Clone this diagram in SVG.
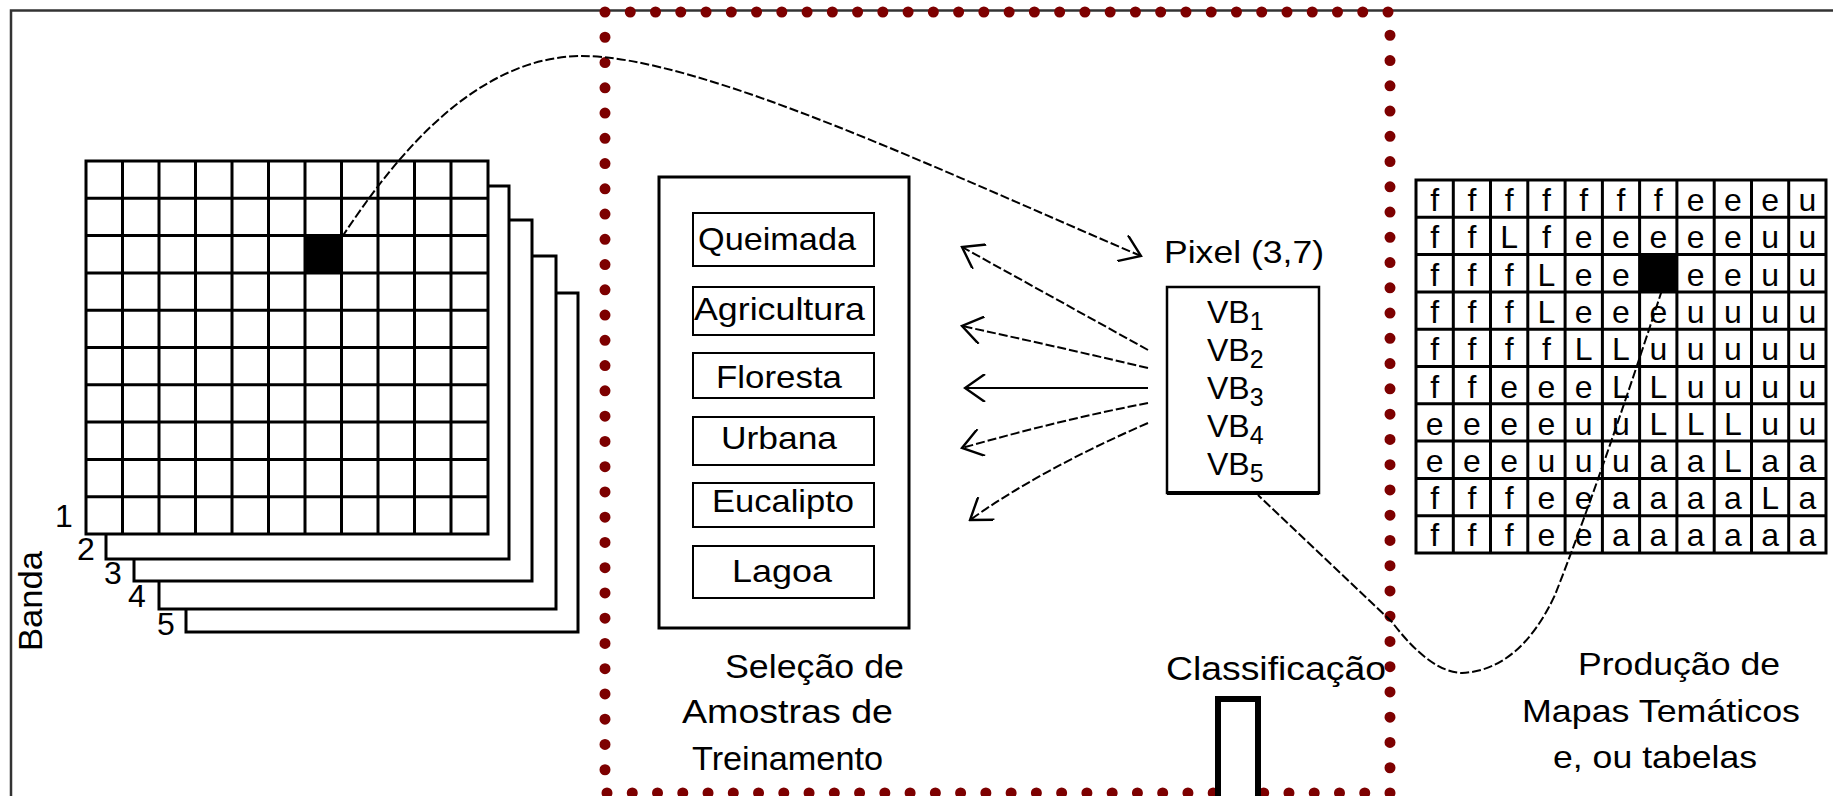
<svg xmlns="http://www.w3.org/2000/svg" width="1833" height="796" viewBox="0 0 1833 796">
<style>
text{font-family:"Liberation Sans",Arial,sans-serif;fill:#000}
.t32{font-size:32px}
.t34{font-size:34px}
.mid{text-anchor:middle}
.ln{fill:none;stroke:#000;stroke-width:3}
.box{fill:#fff;stroke:#000;stroke-width:3}
.thin{fill:none;stroke:#000;stroke-width:2}
.dash{fill:none;stroke:#000;stroke-width:2;stroke-dasharray:9 3}
.cell{font-size:32px;text-anchor:middle}
</style>
<defs>
<marker id="chev" viewBox="0 0 12 14" refX="11" refY="7" markerWidth="24" markerHeight="28" markerUnits="userSpaceOnUse" orient="auto">
<path d="M1,0 L11,7 L1,14" fill="none" stroke="#000" stroke-width="1.2"/>
</marker>
</defs>
<rect width="1833" height="796" fill="#fff"/>
<!-- outer frame -->
<path d="M11,796 V10.5 H1833" fill="none" stroke="#333" stroke-width="2.5"/>

<!-- dotted selection frame -->
<g id="training-frame">
<path d="M605,12 H1390 V793 H605 Z" fill="none" stroke="#7d0000" stroke-width="11" stroke-linecap="round" stroke-dasharray="0 1" pathLength="124"/>
</g>

<!-- band stack -->
<g id="bands">
<rect class="box" x="186" y="293" width="392" height="339"/>
<rect class="box" x="159" y="256" width="397" height="353"/>
<rect class="box" x="134" y="220" width="398" height="361"/>
<rect class="box" x="106" y="186" width="403" height="373"/>
<rect class="box" x="86" y="161" width="402" height="373"/>
<path class="ln" d="M122.5,161V534M159,161V534M195.5,161V534M232,161V534M268.5,161V534M305,161V534M341.5,161V534M378,161V534M414.5,161V534M451,161V534
M86,198.3H488M86,235.6H488M86,272.9H488M86,310.2H488M86,347.5H488M86,384.8H488M86,422.1H488M86,459.4H488M86,496.7H488"/>
<rect x="305" y="235.6" width="36.5" height="37.3" fill="#000"/>
<text class="t32 mid" x="64" y="527">1</text>
<text class="t32 mid" x="86" y="560">2</text>
<text class="t32 mid" x="113" y="584">3</text>
<text class="t32 mid" x="137" y="607">4</text>
<text class="t32 mid" x="166" y="635">5</text>
<text class="mid" font-size="34" transform="translate(42,601) rotate(-90)" textLength="100" lengthAdjust="spacingAndGlyphs">Banda</text>
</g>

<!-- training samples -->
<g id="samples">
<rect class="box" x="659" y="177" width="250" height="451"/>
<rect class="thin" x="693" y="213" width="181" height="53"/>
<rect class="thin" x="693" y="287" width="181" height="48"/>
<rect class="thin" x="693" y="353" width="181" height="45"/>
<rect class="thin" x="693" y="417" width="181" height="48"/>
<rect class="thin" x="693" y="483" width="181" height="44"/>
<rect class="thin" x="693" y="546" width="181" height="52"/>
<text class="t32" x="698" y="250" textLength="158" lengthAdjust="spacingAndGlyphs">Queimada</text>
<text class="t32" x="694" y="320" textLength="171" lengthAdjust="spacingAndGlyphs">Agricultura</text>
<text class="t32" x="716" y="388" textLength="126" lengthAdjust="spacingAndGlyphs">Floresta</text>
<text class="t32" x="721" y="449" textLength="116" lengthAdjust="spacingAndGlyphs">Urbana</text>
<text class="t32" x="712" y="512" textLength="142" lengthAdjust="spacingAndGlyphs">Eucalipto</text>
<text class="t32" x="732" y="582" textLength="100" lengthAdjust="spacingAndGlyphs">Lagoa</text>
<text class="t34" x="725" y="678" textLength="179" lengthAdjust="spacingAndGlyphs">Seleção de</text>
<text class="t34" x="682" y="723" textLength="211" lengthAdjust="spacingAndGlyphs">Amostras de</text>
<text class="t34" x="692" y="770" textLength="191" lengthAdjust="spacingAndGlyphs">Treinamento</text>
</g>

<!-- pixel vector -->
<g id="pixel">
<text class="t32" x="1164" y="263" textLength="160" lengthAdjust="spacingAndGlyphs">Pixel (3,7)</text>
<rect x="1167" y="287" width="152" height="206" fill="#fff" stroke="#000" stroke-width="2.5"/>
<path d="M1167,493H1319" stroke="#000" stroke-width="4"/>
<text class="t32" x="1207" y="323">VB<tspan font-size="25" dy="7">1</tspan></text>
<text class="t32" x="1207" y="361">VB<tspan font-size="25" dy="7">2</tspan></text>
<text class="t32" x="1207" y="399">VB<tspan font-size="25" dy="7">3</tspan></text>
<text class="t32" x="1207" y="437">VB<tspan font-size="25" dy="7">4</tspan></text>
<text class="t32" x="1207" y="475">VB<tspan font-size="25" dy="7">5</tspan></text>
</g>

<!-- classification -->
<g id="classification">
<text class="t34" x="1166" y="680" textLength="220" lengthAdjust="spacingAndGlyphs">Classificação</text>
<rect x="1218" y="699" width="40" height="130" fill="#fff" stroke="#000" stroke-width="6"/>
</g>

<!-- thematic map -->
<g id="map">
<rect class="box" x="1416" y="180" width="410" height="373"/>
<path class="ln" d="M1453.3,180V553M1490.5,180V553M1527.8,180V553M1565.1,180V553M1602.4,180V553M1639.6,180V553M1676.9,180V553M1714.2,180V553M1751.5,180V553M1788.7,180V553
M1416,217.3H1826M1416,254.6H1826M1416,291.9H1826M1416,329.2H1826M1416,366.5H1826M1416,403.8H1826M1416,441.1H1826M1416,478.4H1826M1416,515.7H1826"/>
<rect x="1639.6" y="254.6" width="37.3" height="37.3" fill="#000"/>
<g class="cell">
<text class="cell" x="1434.6" y="211">f</text><text class="cell" x="1471.9" y="211">f</text><text class="cell" x="1509.2" y="211">f</text><text class="cell" x="1546.5" y="211">f</text><text class="cell" x="1583.7" y="211">f</text><text class="cell" x="1621" y="211">f</text><text class="cell" x="1658.3" y="211">f</text><text class="cell" x="1695.6" y="211">e</text><text class="cell" x="1732.8" y="211">e</text><text class="cell" x="1770.1" y="211">e</text><text class="cell" x="1807.4" y="211">u</text>
<text class="cell" x="1434.6" y="248">f</text><text class="cell" x="1471.9" y="248">f</text><text class="cell" x="1509.2" y="248">L</text><text class="cell" x="1546.5" y="248">f</text><text class="cell" x="1583.7" y="248">e</text><text class="cell" x="1621" y="248">e</text><text class="cell" x="1658.3" y="248">e</text><text class="cell" x="1695.6" y="248">e</text><text class="cell" x="1732.8" y="248">e</text><text class="cell" x="1770.1" y="248">u</text><text class="cell" x="1807.4" y="248">u</text>
<text class="cell" x="1434.6" y="286">f</text><text class="cell" x="1471.9" y="286">f</text><text class="cell" x="1509.2" y="286">f</text><text class="cell" x="1546.5" y="286">L</text><text class="cell" x="1583.7" y="286">e</text><text class="cell" x="1621" y="286">e</text><text class="cell" x="1695.6" y="286">e</text><text class="cell" x="1732.8" y="286">e</text><text class="cell" x="1770.1" y="286">u</text><text class="cell" x="1807.4" y="286">u</text>
<text class="cell" x="1434.6" y="323">f</text><text class="cell" x="1471.9" y="323">f</text><text class="cell" x="1509.2" y="323">f</text><text class="cell" x="1546.5" y="323">L</text><text class="cell" x="1583.7" y="323">e</text><text class="cell" x="1621" y="323">e</text><text class="cell" x="1658.3" y="323">e</text><text class="cell" x="1695.6" y="323">u</text><text class="cell" x="1732.8" y="323">u</text><text class="cell" x="1770.1" y="323">u</text><text class="cell" x="1807.4" y="323">u</text>
<text class="cell" x="1434.6" y="360">f</text><text class="cell" x="1471.9" y="360">f</text><text class="cell" x="1509.2" y="360">f</text><text class="cell" x="1546.5" y="360">f</text><text class="cell" x="1583.7" y="360">L</text><text class="cell" x="1621" y="360">L</text><text class="cell" x="1658.3" y="360">u</text><text class="cell" x="1695.6" y="360">u</text><text class="cell" x="1732.8" y="360">u</text><text class="cell" x="1770.1" y="360">u</text><text class="cell" x="1807.4" y="360">u</text>
<text class="cell" x="1434.6" y="398">f</text><text class="cell" x="1471.9" y="398">f</text><text class="cell" x="1509.2" y="398">e</text><text class="cell" x="1546.5" y="398">e</text><text class="cell" x="1583.7" y="398">e</text><text class="cell" x="1621" y="398">L</text><text class="cell" x="1658.3" y="398">L</text><text class="cell" x="1695.6" y="398">u</text><text class="cell" x="1732.8" y="398">u</text><text class="cell" x="1770.1" y="398">u</text><text class="cell" x="1807.4" y="398">u</text>
<text class="cell" x="1434.6" y="435">e</text><text class="cell" x="1471.9" y="435">e</text><text class="cell" x="1509.2" y="435">e</text><text class="cell" x="1546.5" y="435">e</text><text class="cell" x="1583.7" y="435">u</text><text class="cell" x="1621" y="435">u</text><text class="cell" x="1658.3" y="435">L</text><text class="cell" x="1695.6" y="435">L</text><text class="cell" x="1732.8" y="435">L</text><text class="cell" x="1770.1" y="435">u</text><text class="cell" x="1807.4" y="435">u</text>
<text class="cell" x="1434.6" y="472">e</text><text class="cell" x="1471.9" y="472">e</text><text class="cell" x="1509.2" y="472">e</text><text class="cell" x="1546.5" y="472">u</text><text class="cell" x="1583.7" y="472">u</text><text class="cell" x="1621" y="472">u</text><text class="cell" x="1658.3" y="472">a</text><text class="cell" x="1695.6" y="472">a</text><text class="cell" x="1732.8" y="472">L</text><text class="cell" x="1770.1" y="472">a</text><text class="cell" x="1807.4" y="472">a</text>
<text class="cell" x="1434.6" y="509">f</text><text class="cell" x="1471.9" y="509">f</text><text class="cell" x="1509.2" y="509">f</text><text class="cell" x="1546.5" y="509">e</text><text class="cell" x="1583.7" y="509">e</text><text class="cell" x="1621" y="509">a</text><text class="cell" x="1658.3" y="509">a</text><text class="cell" x="1695.6" y="509">a</text><text class="cell" x="1732.8" y="509">a</text><text class="cell" x="1770.1" y="509">L</text><text class="cell" x="1807.4" y="509">a</text>
<text class="cell" x="1434.6" y="546">f</text><text class="cell" x="1471.9" y="546">f</text><text class="cell" x="1509.2" y="546">f</text><text class="cell" x="1546.5" y="546">e</text><text class="cell" x="1583.7" y="546">e</text><text class="cell" x="1621" y="546">a</text><text class="cell" x="1658.3" y="546">a</text><text class="cell" x="1695.6" y="546">a</text><text class="cell" x="1732.8" y="546">a</text><text class="cell" x="1770.1" y="546">a</text><text class="cell" x="1807.4" y="546">a</text>
</g>
<text class="t32" x="1578" y="675" textLength="202" lengthAdjust="spacingAndGlyphs">Produção de</text>
<text class="t32" x="1522" y="722" textLength="278" lengthAdjust="spacingAndGlyphs">Mapas Temáticos</text>
<text class="t32" x="1553" y="768" textLength="204" lengthAdjust="spacingAndGlyphs">e, ou tabelas</text>
</g>

<!-- connectors -->
<g id="connectors">
<path class="dash" d="M342,237 C390,165 470,58 580,56 C700,55 950,175 1141,256" marker-end="url(#chev)"/>
<path class="dash" d="M1148,350 L962,247" marker-end="url(#chev)"/>
<path class="dash" d="M1148,368 Q1050,345 962,326" marker-end="url(#chev)"/>
<path class="thin" d="M1148,388 L965,388" marker-end="url(#chev)"/>
<path class="dash" d="M1148,403 Q1060,420 962,448" marker-end="url(#chev)"/>
<path class="dash" d="M1148,423 Q1040,470 970,520" marker-end="url(#chev)"/>
<path class="dash" d="M1662,290 Q1600,480 1555,595 Q1520,670 1462,673 Q1430,672 1392,622 L1258,495"/>
</g>
</svg>
